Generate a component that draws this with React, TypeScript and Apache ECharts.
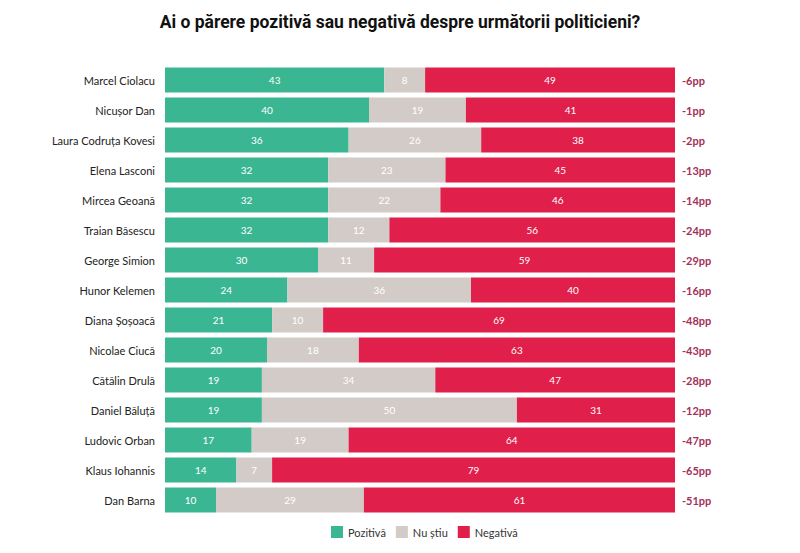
import React, { useEffect, useRef } from "react";
import * as echarts from "echarts";

const categories = [
  "Marcel Ciolacu",
  "Nicușor Dan",
  "Laura Codruța Kovesi",
  "Elena Lasconi",
  "Mircea Geoană",
  "Traian Băsescu",
  "George Simion",
  "Hunor Kelemen",
  "Diana Șoșoacă",
  "Nicolae Ciucă",
  "Cătălin Drulă",
  "Daniel Băluță",
  "Ludovic Orban",
  "Klaus Iohannis",
  "Dan Barna",
];
const pozitiva = [43, 40, 36, 32, 32, 32, 30, 24, 21, 20, 19, 19, 17, 14, 10];
const nuStiu = [8, 19, 26, 23, 22, 12, 11, 36, 10, 18, 34, 50, 19, 7, 29];
const negativa = [49, 41, 38, 45, 46, 56, 59, 40, 69, 63, 47, 31, 64, 79, 61];
const diffLabels = ["-6pp", "-1pp", "-2pp", "-13pp", "-14pp", "-24pp", "-29pp", "-16pp", "-48pp", "-43pp", "-28pp", "-12pp", "-47pp", "-65pp", "-51pp"];

export default function App() {
  const ref = useRef<HTMLDivElement>(null);
  useEffect(() => {
    const chart = echarts.init(ref.current!, null, { renderer: "svg" });
    const label = {
      show: true,
      position: "inside",
      color: "#ffffff",
      fontSize: 10,
      fontFamily: "Lato",
    };
    chart.setOption({
      animation: false,
      backgroundColor: "#ffffff",
      title: {
        text: "Ai o părere pozitivă sau negativă despre următorii politicieni?",
        left: "center",
        top: 8,
        textStyle: { fontFamily: "Roboto", fontWeight: "bold", fontSize: 17.5, color: "#111111" },
      },
      legend: {
        bottom: 10,
        left: 326,
        itemWidth: 12,
        itemHeight: 12,
        itemGap: 10,
        icon: "rect",
        textStyle: { fontFamily: "Lato", fontSize: 11, color: "#333333" },
        data: ["Pozitivă", "Nu știu", "Negativă"],
      },
      grid: { left: 165, right: 125, top: 65, bottom: 38 },
      xAxis: { type: "value", min: 0, max: 100, show: false },
      yAxis: [
        {
          type: "category",
          data: categories,
          inverse: true,
          axisLine: { show: false },
          axisTick: { show: false },
          axisLabel: { fontFamily: "Lato", fontSize: 11, color: "#222222", margin: 10 },
        },
        {
          type: "category",
          data: diffLabels,
          inverse: true,
          position: "right",
          axisLine: { show: false },
          axisTick: { show: false },
          axisLabel: { fontFamily: "Lato", fontSize: 11, fontWeight: "bold", color: "#A3305A", margin: 7, align: "left" },
        },
      ],
      series: [
        { name: "Pozitivă", type: "bar", stack: "t", data: pozitiva, barWidth: 25, itemStyle: { color: "#3BB693" }, label },
        { name: "Nu știu", type: "bar", stack: "t", data: nuStiu, barWidth: 25, itemStyle: { color: "#D3CBC7" }, label },
        { name: "Negativă", type: "bar", stack: "t", data: negativa, barWidth: 25, itemStyle: { color: "#E01F4B" }, label },
      ],
    });
    return () => chart.dispose();
  }, []);
  return <div ref={ref} style={{ width: 800, height: 553, position: "absolute", left: 0, top: 0 }} />;
}
